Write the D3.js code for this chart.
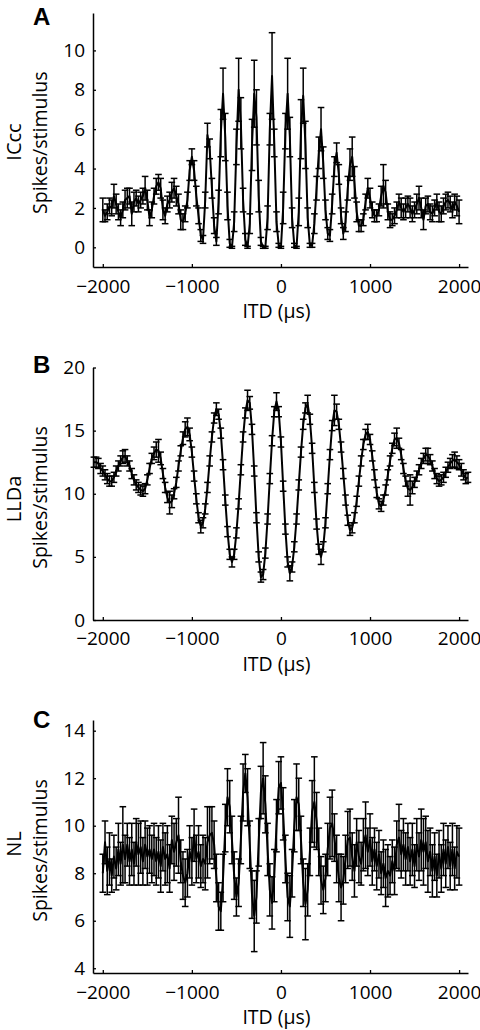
<!DOCTYPE html>
<html><head><meta charset="utf-8">
<script src="https://cdn.jsdelivr.net/npm/d3@7"></script>
<style>body{margin:0;background:#fff}</style>
</head><body>
<svg id="chart" width="480" height="1030"></svg>
<script>
// ---------- DATA ----------
const xTicks = [-2000, -1000, 0, 1000, 2000];
const yTicksA = [0, 2, 4, 6, 8, 10];
const yTicksB = [0, 5, 10, 15, 20];
const yTicksC = [4, 6, 8, 10, 12, 14];

// ITD sampling (µs)
const itdA = d3.range(-2000, 2001, 25);
const itdB = d3.range(-2100, 2101, 25);
const itdC = d3.range(-2000, 2001, 25);

// A: ICcc
const meanA = [
 1.9,1.6,1.8,2.1,2.0,2.6,2.2,1.8,1.5,1.9,
 2.4,2.5,2.6,1.7,2.3,2.5,2.2,2.4,2.6,3.0,
 2.4,1.5,1.9,2.6,3.1,3.3,3.0,1.9,1.6,2.2,
 2.4,2.8,3.0,2.6,2.2,1.4,1.3,1.7,2.4,3.9,
 4.6,3.9,2.6,1.6,0.6,0.4,2.4,5.7,5.0,3.0,
 1.1,0.3,2.3,5.8,7.8,5.6,2.1,0.2,0.0,1.3,
 5.1,8.0,6.3,2.4,0.4,0.0,1.2,5.2,7.8,6.6,
 2.6,0.3,0.0,0.0,1.5,6.0,8.7,5.3,1.3,0.1,
 0.0,2.0,5.9,7.8,5.6,1.5,0.1,0.0,1.8,6.0,
 7.7,5.2,1.5,0.1,0.1,1.2,3.0,4.8,6.0,4.3,
 1.9,0.7,0.6,2.2,4.1,4.8,3.7,1.6,0.7,1.3,
 3.0,4.2,4.6,3.3,1.8,1.1,1.1,1.4,2.3,3.0,
 2.5,1.9,1.6,1.6,1.9,2.6,3.1,2.8,1.8,1.4,
 1.4,1.6,1.9,2.3,2.0,1.8,2.0,2.2,2.0,1.7,
 1.9,2.2,2.5,2.0,1.4,2.1,2.2,1.8,1.7,2.0,
 2.3,1.8,1.7,2.1,2.3,2.4,2.2,1.9,2.3,2.1,
 1.8
];
const errA = [
 0.6,0.3,0.4,0.4,0.4,0.6,0.5,0.4,0.4,0.4,
 0.5,0.5,0.4,0.6,0.5,0.4,0.4,0.4,0.4,0.6,
 0.5,0.4,0.4,0.4,0.4,0.4,0.5,0.5,0.4,0.4,
 0.4,0.5,0.5,0.5,0.5,0.5,0.4,0.4,0.4,0.5,
 0.4,0.5,0.5,0.4,0.3,0.2,0.4,0.6,0.5,0.5,
 0.4,0.2,0.6,1.2,1.3,1.2,0.7,0.2,0.05,0.5,
 0.9,1.6,1.3,0.6,0.3,0.05,0.5,1.3,1.7,1.4,
 0.8,0.2,0.05,0.05,0.6,0.8,2.2,0.7,0.5,0.1,
 0.05,0.8,0.9,1.8,1.0,0.5,0.1,0.05,0.7,1.5,
 1.4,1.2,0.5,0.1,0.1,0.5,0.6,0.8,1.1,0.8,
 0.5,0.3,0.3,0.5,0.5,0.5,0.5,0.4,0.3,0.5,
 0.6,0.8,1.0,0.8,0.5,0.3,0.3,0.3,0.4,0.5,
 0.5,0.4,0.3,0.3,0.3,0.5,1.1,0.6,0.4,0.4,
 0.3,0.4,0.4,0.4,0.5,0.4,0.5,0.4,0.5,0.4,
 0.4,0.5,0.6,0.5,0.5,0.4,0.4,0.4,0.4,0.4,
 0.4,0.5,0.4,0.4,0.4,0.4,0.4,0.4,0.4,0.5,
 0.6
];

// B: LLDa
const meanB = [
 12.5,12.5,12.4,12.0,11.8,11.5,11.2,11.0,11.0,11.3,
 11.8,12.2,12.6,12.9,13.0,12.6,12.2,11.6,11.1,10.7,
 10.5,10.3,10.2,10.4,11.1,12.0,12.8,13.2,13.5,13.4,
 12.8,11.6,10.5,9.7,9.3,9.4,10.0,10.9,12.2,13.4,
 14.4,15.1,15.3,14.7,13.3,11.4,9.6,8.1,7.4,7.7,
 8.8,10.5,12.6,14.5,16.0,16.7,16.3,14.8,12.3,9.5,
 7.0,5.2,4.6,5.2,6.9,9.2,11.9,14.5,16.4,17.4,
 17.2,15.1,11.8,8.1,5.0,3.4,3.6,5.3,8.0,11.2,
 14.2,16.5,17.3,16.5,14.1,10.6,7.2,4.6,3.7,4.2,
 5.8,8.0,10.7,13.3,15.5,16.8,17.1,15.9,13.6,10.5,
 7.6,5.6,5.0,5.8,7.7,10.4,13.1,15.4,16.6,16.5,
 15.5,13.7,11.6,9.5,7.9,7.1,7.3,8.1,9.4,11.0,
 12.6,13.9,14.7,14.9,14.3,13.0,11.5,10.1,9.2,9.0,
 9.5,10.3,11.5,12.6,13.6,14.3,14.4,14.0,13.1,12.0,
 11.0,10.4,10.3,10.5,10.9,11.4,11.9,12.4,12.8,13.1,
 13.0,12.7,12.2,11.6,11.2,11.0,11.1,11.3,11.7,12.1,
 12.4,12.6,12.7,12.5,12.3,11.9,11.5,11.2,11.3
];
const errB = [
 0.4,0.4,0.4,0.4,0.4,0.4,0.4,0.4,0.4,0.4,
 0.4,0.4,0.4,0.5,0.5,0.4,0.4,0.4,0.4,0.4,
 0.4,0.4,0.4,0.4,0.4,0.4,0.4,0.5,0.6,0.9,
 0.5,0.4,0.4,0.4,0.9,0.5,0.4,0.4,0.4,0.4,
 0.5,0.6,0.7,0.5,0.4,0.4,0.4,0.4,0.5,0.4,
 0.4,0.4,0.4,0.4,0.4,0.5,0.4,0.4,0.4,0.4,
 0.4,0.4,0.4,0.4,0.4,0.4,0.4,0.4,0.4,0.8,
 0.5,0.4,0.4,0.4,0.4,0.4,0.4,0.4,0.4,0.4,
 0.4,0.4,0.7,0.4,0.4,0.4,0.4,0.4,0.6,0.4,
 0.4,0.4,0.4,0.4,0.4,0.4,0.7,0.4,0.4,0.4,
 0.4,0.4,0.6,0.4,0.4,0.4,0.4,0.4,1.2,0.6,
 0.4,0.4,0.4,0.4,0.4,0.4,0.4,0.4,0.4,0.4,
 0.4,0.4,0.4,0.6,0.4,0.4,0.4,0.4,0.4,0.4,
 0.4,0.4,0.4,0.4,0.4,0.5,0.8,0.4,0.4,0.4,
 0.4,0.6,1.2,0.5,0.4,0.4,0.4,0.4,0.4,0.5,
 0.6,0.4,0.4,0.4,0.4,0.4,0.4,0.4,0.4,0.4,
 0.4,0.5,0.6,0.5,0.4,0.5,0.4,0.4,0.4
];

// C: NL
const meanC = [
 8.0,9.3,8.1,8.6,7.9,8.7,8.2,9.0,8.4,9.2,
 8.6,9.2,8.5,9.0,8.4,9.3,8.8,9.1,8.5,9.2,
 8.7,9.0,8.6,9.0,8.5,8.9,8.3,9.1,8.6,8.8,
 8.2,9.4,8.9,9.3,9.6,8.5,7.9,7.6,8.0,8.9,
 8.5,9.6,8.6,8.9,8.3,8.6,8.4,9.3,9.6,9.7,
 9.2,7.8,6.6,6.4,7.8,9.9,11.2,10.8,9.4,7.9,
 7.0,7.6,9.4,11.4,12.2,11.2,9.2,7.1,6.2,7.0,
 9.3,11.4,12.0,10.9,9.0,7.3,6.75,7.9,10.0,11.6,
 11.8,10.5,8.6,7.0,6.6,8.0,10.0,11.2,10.9,9.4,
 7.6,6.7,7.3,8.9,10.6,11.0,10.2,8.9,7.7,7.3,
 7.8,9.0,9.9,10.1,9.5,8.6,7.8,7.4,7.7,8.6,
 9.4,9.5,8.7,8.1,9.3,8.7,8.4,9.2,9.6,8.9,
 9.4,8.5,9.0,8.3,8.8,8.0,8.4,7.8,8.1,7.9,
 8.5,8.1,9.2,9.5,8.8,9.2,8.6,9.1,8.5,9.0,
 8.3,9.2,8.7,9.4,8.9,9.3,8.5,8.9,8.1,8.7,
 7.9,8.8,8.2,9.0,8.4,9.1,8.3,9.0,8.2,8.9,
 8.7
];
const errC = [
 0.8,0.9,1.0,1.1,0.7,0.9,0.9,1.1,0.9,1.6,
 1.0,0.9,1.0,1.1,0.9,1.0,1.3,1.1,1.0,1.0,
 1.2,1.0,1.0,1.1,1.0,1.1,1.1,1.0,1.1,1.2,
 1.0,1.0,1.2,1.0,1.6,0.9,1.0,1.0,1.0,1.1,
 1.0,1.1,1.0,1.1,0.9,1.0,1.1,1.5,1.2,1.1,
 1.0,1.0,1.0,0.8,1.0,1.0,1.2,1.1,1.0,1.0,
 0.8,1.0,1.0,1.2,0.8,1.2,1.0,1.0,1.5,1.1,
 1.0,1.1,1.5,1.2,1.1,1.1,1.1,1.1,1.1,1.1,
 1.1,1.1,1.0,1.0,1.3,1.0,1.1,1.4,1.1,1.0,
 1.0,1.5,1.1,1.0,1.3,1.9,1.2,1.0,1.0,1.0,
 1.0,1.1,1.3,1.4,1.0,1.0,1.0,1.4,1.0,1.0,
 1.2,1.2,1.0,1.1,1.0,1.1,0.9,1.1,1.4,1.0,
 1.1,1.0,0.9,1.0,1.0,0.9,1.0,1.2,1.1,0.8,
 0.9,1.0,1.0,1.4,1.0,1.1,1.1,1.0,1.0,1.1,
 0.9,1.1,1.0,1.3,1.4,1.1,1.3,1.0,1.1,1.0,
 0.9,1.0,1.0,1.1,1.0,0.9,1.0,1.1,0.9,1.1,
 1.2
];

const panelLetters = ["A", "B", "C"];
const areaNames = ["ICcc", "LLDa", "NL"];
const yTitle = "Spikes/stimulus";
const xTitle = "ITD (\u03bcs)";

// ---------- LAYOUT ----------
const FONT = "'Open Sans', 'Noto Sans', sans-serif";
const panels = [
  {letter: panelLetters[0], name: areaNames[0], itd: itdA, mean: meanA, err: errA, yTicks: yTicksA,
   yDomain: [-1, 11.9], top: 13, bottom: 267, letterY: 25, nameY: 142, titleY: 142.7, tickPad: 12.5, xTitleY: 318},
  {letter: panelLetters[1], name: areaNames[1], itd: itdB, mean: meanB, err: errB, yTicks: yTicksB,
   yDomain: [0, 20], top: 367.5, bottom: 620, letterY: 373, nameY: 499, titleY: 497.5, tickPad: 12, xTitleY: 671},
  {letter: panelLetters[2], name: areaNames[2], itd: itdC, mean: meanC, err: errC, yTicks: yTicksC,
   yDomain: [3.8, 14.45], top: 720, bottom: 973, letterY: 728, nameY: 844, titleY: 850.5, tickPad: 13, xTitleY: 1024}
];
const left = 93, right = 468;

const svg = d3.select("#chart");
const x = d3.scaleLinear().domain([-2110, 2100]).range([left, right]);

panels.forEach(p => {
  const y = d3.scaleLinear().domain(p.yDomain).range([p.bottom, p.top]);
  const g = svg.append("g");
  const pts = p.itd.map((t, i) => ({t, m: p.mean[i], e: p.err[i]})).filter(d => d.m !== undefined);

  // error bars
  const eb = g.append("g").attr("stroke", "#000").attr("stroke-width", 1.5).attr("fill", "none");
  pts.forEach(d => {
    const cx = x(d.t), y1 = y(d.m - d.e), y2 = y(d.m + d.e);
    eb.append("line").attr("x1", cx).attr("x2", cx).attr("y1", y1).attr("y2", y2);
    eb.append("line").attr("x1", cx - 3.3).attr("x2", cx + 3.3).attr("y1", y1).attr("y2", y1);
    eb.append("line").attr("x1", cx - 3.3).attr("x2", cx + 3.3).attr("y1", y2).attr("y2", y2);
  });

  // mean line
  g.append("path").datum(pts)
    .attr("fill", "none").attr("stroke", "#000").attr("stroke-width", 2)
    .attr("stroke-linejoin", "round")
    .attr("d", d3.line().x(d => x(d.t)).y(d => y(d.m)));

  // axes
  const ya = g.append("g").attr("transform", `translate(${left},0)`)
    .call(d3.axisLeft(y).tickValues(p.yTicks).tickSizeInner(-3).tickSizeOuter(0).tickPadding(8).tickFormat(d3.format("d")));
  const xa = g.append("g").attr("transform", `translate(0,${p.bottom})`)
    .call(d3.axisBottom(x).tickValues(xTicks).tickSizeInner(-3).tickSizeOuter(0).tickPadding(p.tickPad).tickFormat(d3.format("d")));
  [ya, xa].forEach(a => {
    a.attr("font-family", FONT).attr("font-size", 19);
    a.select(".domain").attr("stroke-width", 1.5);
    a.selectAll(".tick line").attr("stroke-width", 1.3);
    a.selectAll("text").attr("fill", "#000");
  });

  // titles
  g.append("text").attr("x", (left + right) / 2 - 4).attr("y", p.xTitleY)
    .attr("text-anchor", "middle").attr("font-family", FONT).attr("font-size", 19.5).text(xTitle);
  g.append("text").attr("transform", `translate(47,${p.titleY}) rotate(-90)`)
    .attr("text-anchor", "middle").attr("font-family", FONT).attr("font-size", 19.5).text(yTitle);
  g.append("text").attr("transform", `translate(21,${p.nameY}) rotate(-90)`)
    .attr("text-anchor", "middle").attr("font-family", FONT).attr("font-size", 20).text(p.name);
  g.append("text").attr("x", 33).attr("y", p.letterY)
    .attr("font-family", "'Liberation Sans', Arial, sans-serif").attr("font-weight", "bold").attr("font-size", 24).text(p.letter);
});
</script>
</body></html>
